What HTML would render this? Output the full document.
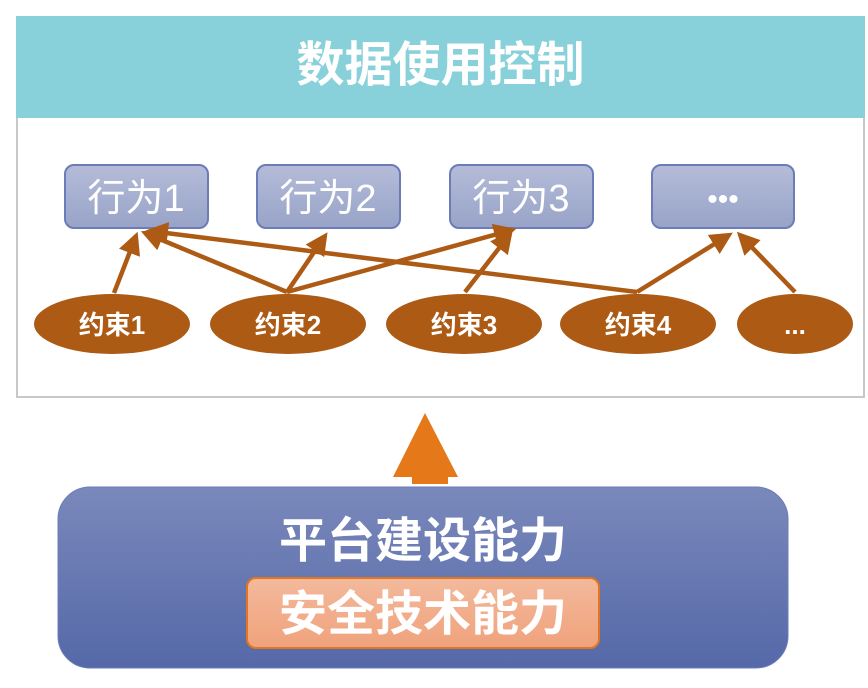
<!DOCTYPE html>
<html><head><meta charset="utf-8"><style>
body{margin:0;width:868px;height:688px;background:#fff;position:relative;overflow:hidden;font-family:"Liberation Sans","Noto Sans CJK SC",sans-serif}
.abs{position:absolute}
</style></head><body>
<div class="abs" style="left:16px;top:16px;width:849px;height:102px;background:#89d1da;color:#fff;font-weight:bold;font-size:48px;text-align:center;line-height:100px">数据使用控制</div>
<div class="abs" style="left:16px;top:118px;width:845px;height:278px;border:2px solid #c8c8c8;border-top:none"></div>
<svg class="abs" style="left:0;top:0" width="868" height="688">
<defs>
<linearGradient id="bx" x1="0" y1="0" x2="0" y2="1"><stop offset="0" stop-color="#b4bcd8"/><stop offset="1" stop-color="#98a3c8"/></linearGradient>
<linearGradient id="bb" x1="0" y1="0" x2="0" y2="1"><stop offset="0" stop-color="#7a89bb"/><stop offset="1" stop-color="#5568a8"/></linearGradient>
<linearGradient id="ob" x1="0" y1="0" x2="0" y2="1"><stop offset="0" stop-color="#f3b99c"/><stop offset="1" stop-color="#f0a27c"/></linearGradient>
<marker id="ah" markerWidth="5" markerHeight="5" refX="4" refY="2.5" orient="auto"><path d="M0,0L5,2.5L0,5z" fill="#ad5a14"/></marker>
</defs>
<g fill="url(#bx)" stroke="#6c7cb8" stroke-width="2">
<rect x="65" y="165" width="143" height="63" rx="9"/>
<rect x="257" y="165" width="143" height="63" rx="9"/>
<rect x="450" y="165" width="143" height="63" rx="9"/>
<rect x="652" y="165" width="142" height="63" rx="9"/>
</g>
<g fill="#fff" font-size="38" text-anchor="middle" font-family="Liberation Sans,Noto Sans CJK SC,sans-serif">
<text x="136" y="211">行为1</text><text x="328" y="211">行为2</text><text x="521" y="211">行为3</text><text x="723" y="209" font-size="30">•••</text>
</g>
<g stroke="#ad5a14" stroke-width="4.5" marker-end="url(#ah)">
<line x1="114" y1="293" x2="136" y2="236"/>
<line x1="287" y1="292" x2="145" y2="233"/>
<line x1="287" y1="292" x2="325" y2="236"/>
<line x1="287" y1="292" x2="512" y2="230"/>
<line x1="465" y1="292" x2="510" y2="234"/>
<line x1="637" y1="292" x2="150" y2="231"/>
<line x1="637" y1="292" x2="729" y2="235"/>
<line x1="795" y1="292" x2="740" y2="235"/>
</g>
<g fill="#ad5a14">
<ellipse cx="112" cy="324" rx="78" ry="30"/>
<ellipse cx="288" cy="324" rx="78" ry="30"/>
<ellipse cx="464" cy="324" rx="78" ry="30"/>
<ellipse cx="638" cy="324" rx="78" ry="30"/>
<ellipse cx="795" cy="324" rx="58" ry="30"/>
</g>
<g fill="#fff" font-size="26" font-weight="bold" text-anchor="middle" font-family="Liberation Sans,Noto Sans CJK SC,sans-serif">
<text x="112" y="334">约束1</text><text x="288" y="334">约束2</text><text x="464" y="334">约束3</text><text x="638" y="334">约束4</text><text x="795" y="334">...</text>
</g>
<path d="M425,413L458,477L448,477L448,484L412,484L412,477L393,477z" fill="#e57819"/>
<rect x="58" y="487" width="730" height="181" rx="32" fill="url(#bb)" stroke="#6c7cb8" stroke-width="1"/>
<rect x="247" y="578" width="352" height="70" rx="9" fill="url(#ob)" stroke="#e2751e" stroke-width="2"/>
<g fill="#fff" font-size="48" font-weight="bold" text-anchor="middle" font-family="Liberation Sans,Noto Sans CJK SC,sans-serif">
<text x="423" y="557">平台建设能力</text>
<text x="423" y="630">安全技术能力</text>
</g>
</svg>
</body></html>
